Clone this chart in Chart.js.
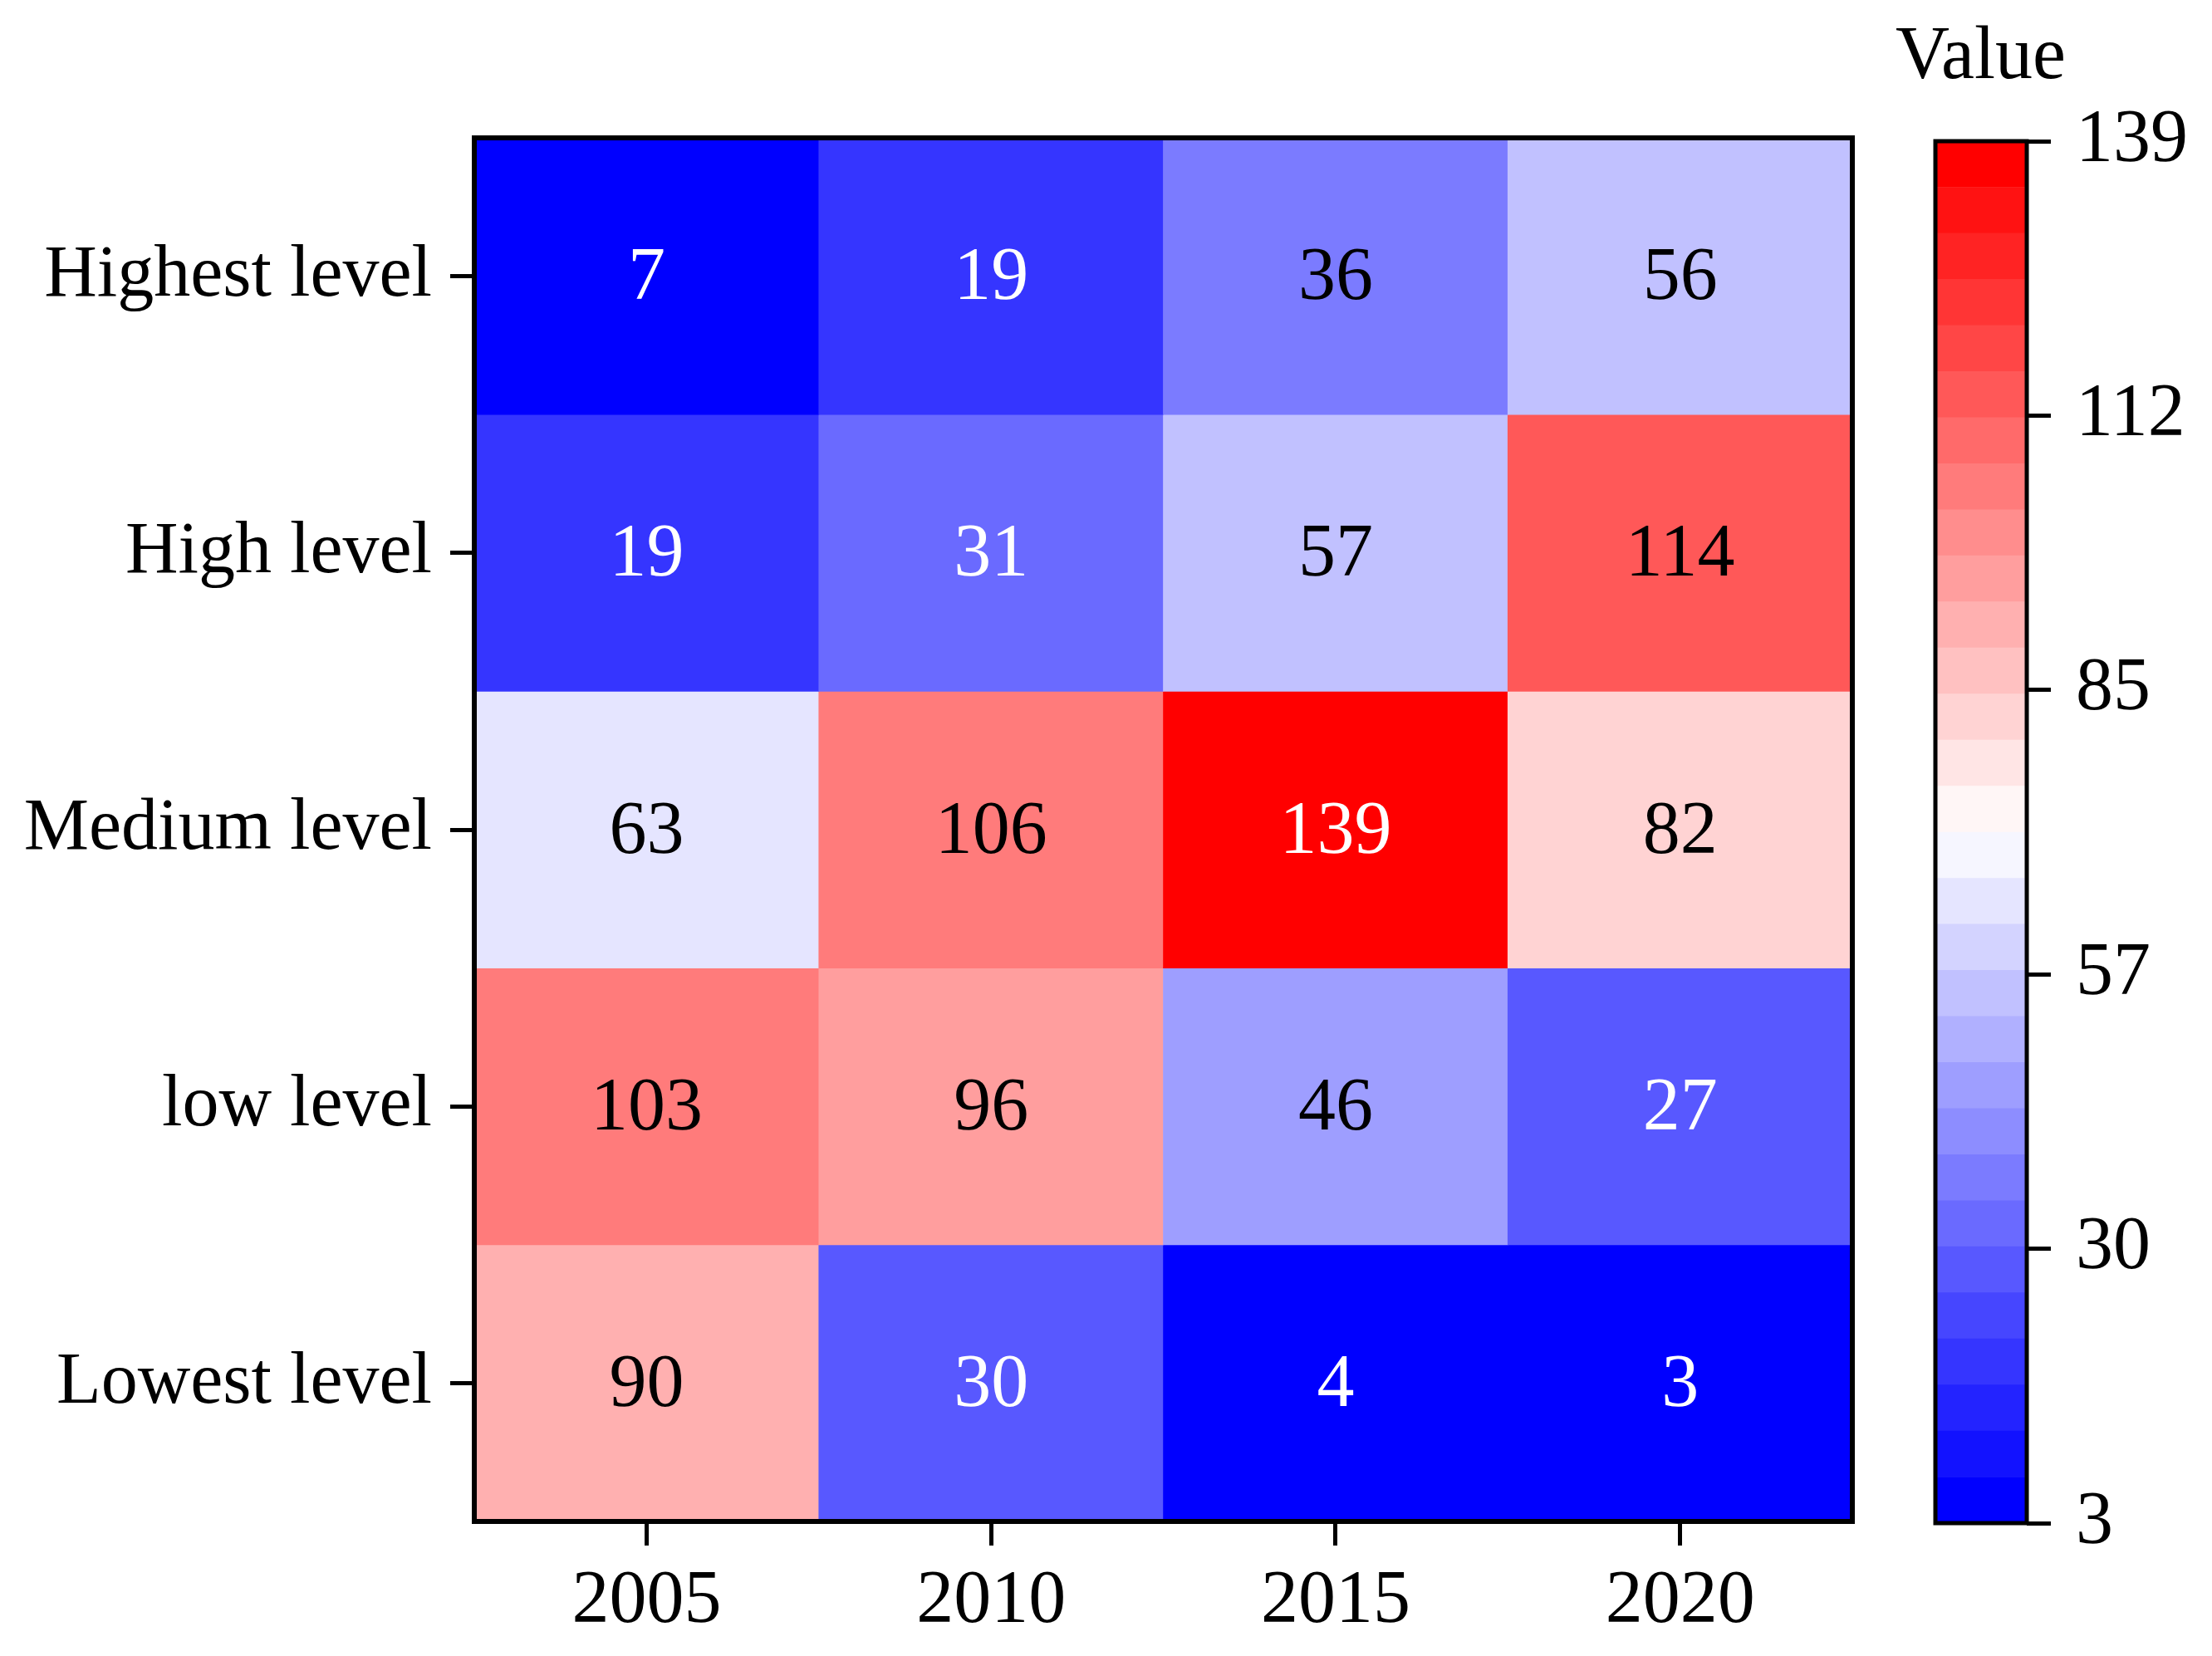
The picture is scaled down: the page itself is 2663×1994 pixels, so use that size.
<!DOCTYPE html>
<html>
<head>
<meta charset="utf-8">
<script src="https://cdn.jsdelivr.net/npm/chart.js@4/dist/chart.umd.min.js"></script>
<style>
  body { margin: 0; background: #fff; }
  #wrap { position: relative; width: 2663px; height: 1994px; }
  #heat { position: absolute; left: 0; top: 0; }
  #bar { position: absolute; left: 2300px; top: 0; }
  #cbTitle { position: absolute; left: 2282px; top: 12px; width: 200px; text-align: center;
             font-family: 'Liberation Serif', serif; font-size: 90px; color: #000; }
</style>
</head>
<body>
<div id="wrap">
  <canvas id="heat" width="2663" height="1994"></canvas>
  <canvas id="bar" width="363" height="1994"></canvas>
  <div id="cbTitle">Value</div>
</div>
<script>
// categories
const years = ['2005', '2010', '2015', '2020'];
const levels = ['Highest level', 'High level', 'Medium level', 'low level', 'Lowest level'];

// values per row (top to bottom)
const highestLevel = [7, 19, 36, 56];
const highLevel = [19, 31, 57, 114];
const mediumLevel = [63, 106, 139, 82];
const lowLevel = [103, 96, 46, 27];
const lowestLevel = [90, 30, 4, 3];

// colour bar
const vMin = 3, vMax = 139, nSteps = 30;
const cbTicks = [3, 30, 57, 85, 112, 139];

const rows = [highestLevel, highLevel, mediumLevel, lowLevel, lowestLevel];
const FONT = "'Liberation Serif', 'Times New Roman', serif";

// matplotlib bwr, discretised into nSteps
function bwr(t) {
    if (t < 0.5) { const c = Math.round(2 * t * 255); return [c, c, 255]; }
    const c = Math.round(2 * (1 - t) * 255); return [255, c, c];
}
function stepOf(v) {
    let k = Math.floor((v - vMin) / (vMax - vMin) * nSteps);
    return Math.min(nSteps - 1, Math.max(0, k));
}
function colorOf(v) { return bwr(stepOf(v) / (nSteps - 1)); }
const css = c => 'rgb(' + c.join(',') + ')';
const textColor = v => { const c = colorOf(v); return (0.299 * c[0] + 0.587 * c[1] + 0.114 * c[2]) < 130 ? '#fff' : '#000'; };

const frame = {
    id: 'frame',
    afterDraw(chart, args, opts) {
        const a = chart.chartArea, ctx = chart.ctx;
        ctx.save();
        ctx.strokeStyle = '#000';
        ctx.lineWidth = opts.width;
        ctx.strokeRect(a.left, a.top, a.right - a.left, a.bottom - a.top);
        ctx.restore();
    }
};

const cellLabels = {
    id: 'cellLabels',
    afterDatasetsDraw(chart) {
        const ctx = chart.ctx;
        ctx.save();
        ctx.font = '90px ' + FONT;
        ctx.textAlign = 'center';
        ctx.textBaseline = 'middle';
        chart.data.datasets.forEach((ds, i) => {
            chart.getDatasetMeta(i).data.forEach((el, j) => {
                const v = rows[i][j];
                ctx.fillStyle = textColor(v);
                ctx.fillText(String(v), el.x, (el.y + el.base) / 2 + 4);
            });
        });
        ctx.restore();
    }
};

// heatmap
new Chart(document.getElementById('heat').getContext('2d'), {
    type: 'bar',
    data: {
        labels: years,
        datasets: rows.map((vals, i) => ({
            label: levels[i],
            data: vals.map(() => [levels.length - 1 - i, levels.length - i]),
            backgroundColor: vals.map(v => css(colorOf(v))),
            borderWidth: 0,
            grouped: false,
            barPercentage: 1,
            categoryPercentage: 1
        }))
    },
    options: {
        responsive: false,
        animation: false,
        layout: { padding: { top: 166, right: 433, left: 0, bottom: 0 } },
        plugins: { legend: { display: false }, tooltip: { enabled: false }, frame: { width: 6 } },
        scales: {
            x: {
                grid: { offset: false, drawOnChartArea: false, color: '#000', tickLength: 29, tickWidth: 5 },
                border: { display: false },
                ticks: { color: '#000', font: { family: FONT, size: 90 }, padding: 14, maxRotation: 0 },
                afterFit(s) { s.height = 162; }
            },
            y: {
                min: 0, max: levels.length,
                grid: { drawOnChartArea: false, color: '#000', tickLength: 29, tickWidth: 5 },
                border: { display: false },
                afterBuildTicks(axis) { axis.ticks = levels.map((_, i) => ({ value: i + 0.5 })); },
                ticks: {
                    color: '#000', font: { family: FONT, size: 88 }, padding: 22,
                    callback: v => levels[levels.length - 1 - Math.floor(v)]
                },
                afterFit(s) { s.width = 571; }
            }
        }
    },
    plugins: [frame, cellLabels]
});

// colour bar
const stepSize = (vMax - vMin) / nSteps;
const stepIdx = Array.from({ length: nSteps }, (_, k) => k);
new Chart(document.getElementById('bar').getContext('2d'), {
    type: 'bar',
    data: {
        labels: ['Value'],
        datasets: stepIdx.map(k => ({
            data: [[vMin + k * stepSize, vMin + (k + 1) * stepSize]],
            backgroundColor: css(bwr(k / (nSteps - 1))),
            borderWidth: 0,
            grouped: false,
            barPercentage: 1,
            categoryPercentage: 1
        }))
    },
    options: {
        responsive: false,
        animation: false,
        layout: { padding: { top: 170, bottom: 160, left: 30, right: 0 } },
        plugins: { legend: { display: false }, tooltip: { enabled: false }, frame: { width: 5 } },
        scales: {
            x: { display: false },
            y: {
                position: 'right',
                min: vMin, max: vMax,
                grid: { drawOnChartArea: false, color: '#000', tickLength: 29, tickWidth: 5 },
                border: { display: false },
                afterBuildTicks(axis) { axis.ticks = cbTicks.map(v => ({ value: v })); },
                ticks: { color: '#000', font: { family: FONT, size: 90 }, padding: 30, callback: v => String(v) },
                afterFit(s) { s.width = 223; }
            }
        }
    },
    plugins: [frame]
});
</script>
</body>
</html>
